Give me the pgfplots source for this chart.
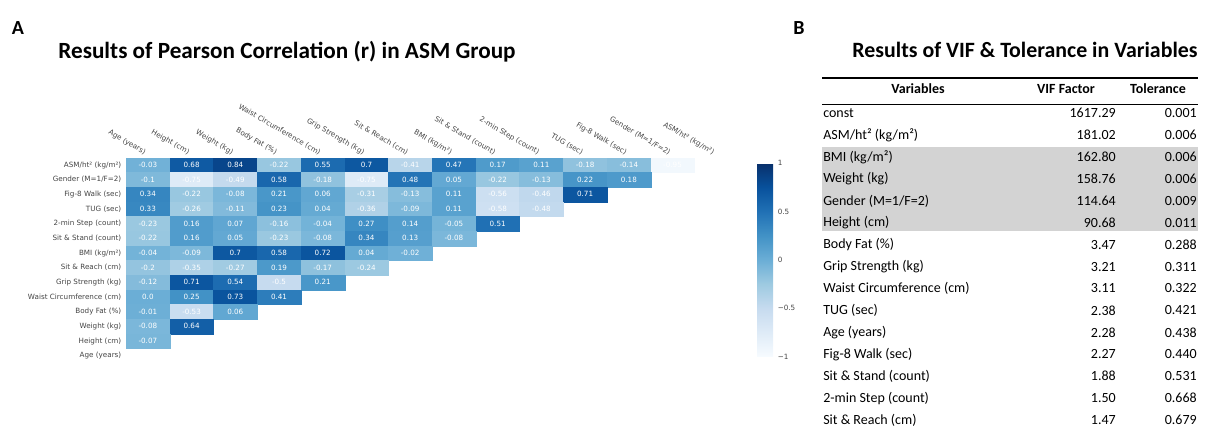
\documentclass[border=0pt]{standalone}
\usepackage{pgfplots}
\pgfplotsset{compat=1.18}
\usepackage{pgfplotstable}
\usepackage{fontspec}
\setmainfont{Carlito}
\newfontfamily\dv{DejaVu Sans}
\definecolor{tickgray}{HTML}{444444}
\definecolor{vifgray}{RGB}{211,211,211}
\pgfdeclareplotmark{cell}{\pgfpathrectangle{\pgfpoint{-16.4pt}{-5.51pt}}{\pgfpoint{32.8pt}{11.02pt}}\pgfusepathqfillstroke}

\pgfplotstableread{
c r v
0 13 -0.03
1 13 0.68
2 13 0.84
3 13 -0.22
4 13 0.55
5 13 0.7
6 13 -0.41
7 13 0.47
8 13 0.17
9 13 0.11
10 13 -0.18
11 13 -0.14
12 13 -0.95
0 12 -0.1
1 12 -0.75
2 12 -0.49
3 12 0.58
4 12 -0.18
5 12 -0.75
6 12 0.48
7 12 0.05
8 12 -0.22
9 12 -0.13
10 12 0.22
11 12 0.18
0 11 0.34
1 11 -0.22
2 11 -0.08
3 11 0.21
4 11 0.06
5 11 -0.31
6 11 -0.13
7 11 0.11
8 11 -0.56
9 11 -0.46
10 11 0.71
0 10 0.33
1 10 -0.26
2 10 -0.11
3 10 0.23
4 10 0.04
5 10 -0.36
6 10 -0.09
7 10 0.11
8 10 -0.58
9 10 -0.48
0 9 -0.23
1 9 0.16
2 9 0.07
3 9 -0.16
4 9 -0.04
5 9 0.27
6 9 0.14
7 9 -0.05
8 9 0.51
0 8 -0.22
1 8 0.16
2 8 0.05
3 8 -0.23
4 8 -0.08
5 8 0.34
6 8 0.13
7 8 -0.08
0 7 -0.04
1 7 -0.09
2 7 0.7
3 7 0.58
4 7 0.72
5 7 0.04
6 7 -0.02
0 6 -0.2
1 6 -0.35
2 6 -0.27
3 6 0.19
4 6 -0.17
5 6 -0.24
0 5 -0.12
1 5 0.71
2 5 0.54
3 5 -0.5
4 5 0.21
0 4 0.0
1 4 0.25
2 4 0.73
3 4 0.41
0 3 -0.01
1 3 -0.53
2 3 0.06
0 2 -0.08
1 2 0.64
0 1 -0.07
}\corr

\begin{document}
\begin{tikzpicture}
\path[use as bounding box] (0,0) rectangle (1212*0.75pt,-426*0.75pt);
\begin{axis}[
  at={(126*0.75pt,-157.7*0.75pt)}, anchor=north west,
  scale only axis, width=459.1pt, height=154.0pt,
  xmin=-0.5, xmax=13.5, ymin=-0.5, ymax=13.5,
  axis line style={draw=none}, major tick length=0pt,
  xtick={0,...,13}, ytick={0,...,13},
  xticklabels={Age (years), Height (cm), Weight (kg), Body Fat (\%), Waist Circumference (cm), Grip Strength (kg), Sit \& Reach (cm), BMI (kg/m²), Sit \& Stand (count), 2-min Step (count), TUG (sec), Fig-8 Walk (sec), Gender (M=1/F=2), ASM/ht² (kg/m²)},
  yticklabels={Age (years), Height (cm), Weight (kg), Body Fat (\%), Waist Circumference (cm), Grip Strength (kg), Sit \& Reach (cm), BMI (kg/m²), Sit \& Stand (count), 2-min Step (count), TUG (sec), Fig-8 Walk (sec), Gender (M=1/F=2), ASM/ht² (kg/m²)},
  xticklabel pos=right,
  ticklabel style={font=\dv\fontsize{5.4}{6}\selectfont, text=tickgray},
  xticklabel style={rotate=-30, anchor=east, yshift=2pt},
  yticklabel style={anchor=east},
  colormap={blues}{rgb255=(247,251,255) rgb255=(222,235,247) rgb255=(198,219,239) rgb255=(158,202,225) rgb255=(107,174,214) rgb255=(66,146,198) rgb255=(33,113,181) rgb255=(8,81,156) rgb255=(8,48,107)},
  point meta min=-1, point meta max=1,
  colorbar,
  colorbar style={
    at={(parent axis.north east)}, anchor=north west,
    xshift=5.7pt, yshift=-4.2pt,
    scale only axis, width=12pt, height=145pt,
    axis line style={draw=none}, major tick length=0pt,
    ytick={-1,-0.5,0,0.5,1}, yticklabels={−1,−0.5,0,0.5,1},
    yticklabel style={font=\dv\fontsize{5.4}{6}\selectfont, text=tickgray},
  },
]
\addplot[scatter, only marks, mark=cell, line width=0.1pt,
  scatter/use mapped color={draw=mapped color, fill=mapped color},
  point meta=\thisrow{v}] table[x=c,y=r] {\corr};
\addplot[only marks, mark=none, nodes near coords, point meta=explicit symbolic,
  every node near coord/.append style={anchor=center, font=\dv\fontsize{5.4}{6}\selectfont, text=white}]
  table[x=c,y=r,meta=v] {\corr};
\end{axis}

\begin{scope}[x=0.75pt,y=-0.75pt]
\node[font=\bfseries\fontsize{15}{17}\selectfont] at (18,28) {A};
\node[font=\bfseries\fontsize{17.4}{19}\selectfont] at (287,52) {Results of Pearson Correlation (r) in ASM Group};
\node[font=\bfseries\fontsize{15}{17}\selectfont] at (799,28) {B};
\node[font=\bfseries\fontsize{16.4}{18}\selectfont] at (1025,50) {Results of VIF \& Tolerance in Variables};
\fill[vifgray] (822,146.7) rectangle (1198,230.7);
\draw[line width=1.5pt] (822,77.7) -- (1198,77.7);
\draw[line width=0.5pt] (822,104) -- (1198,104);
\begin{scope}[font=\bfseries\fontsize{10.5}{12}\selectfont]
\node at (918,89) {Variables};
\node at (1066,89) {VIF Factor};
\node at (1158,89) {Tolerance};
\end{scope}
\begin{scope}[font=\fontsize{10.5}{12}\selectfont]
\foreach \i/\nm/\vif/\tol in {0/const/1617.29/0.001, 1/{ASM/ht² (kg/m²)}/181.02/0.006, 2/{BMI (kg/m²)}/162.80/0.006, 3/Weight (kg)/158.76/0.006, 4/{Gender (M=1/F=2)}/114.64/0.009, 5/Height (cm)/90.68/0.011, 6/Body Fat (\%)/3.47/0.288, 7/Grip Strength (kg)/3.21/0.311, 8/Waist Circumference (cm)/3.11/0.322, 9/TUG (sec)/2.38/0.421, 10/Age (years)/2.28/0.438, 11/Fig-8 Walk (sec)/2.27/0.440, 12/Sit \& Stand (count)/1.88/0.531, 13/2-min Step (count)/1.50/0.668, 14/Sit \& Reach (cm)/1.47/0.679} {
  \node[anchor=west, inner sep=0pt] at (823,113.3+21.9*\i) {\nm};
  \node[anchor=east, inner sep=0pt] at (1116,113.3+21.9*\i) {\vif};
  \node[anchor=east, inner sep=0pt] at (1197,113.3+21.9*\i) {\tol};
}
\end{scope}
\end{scope}
\end{tikzpicture}
\end{document}
